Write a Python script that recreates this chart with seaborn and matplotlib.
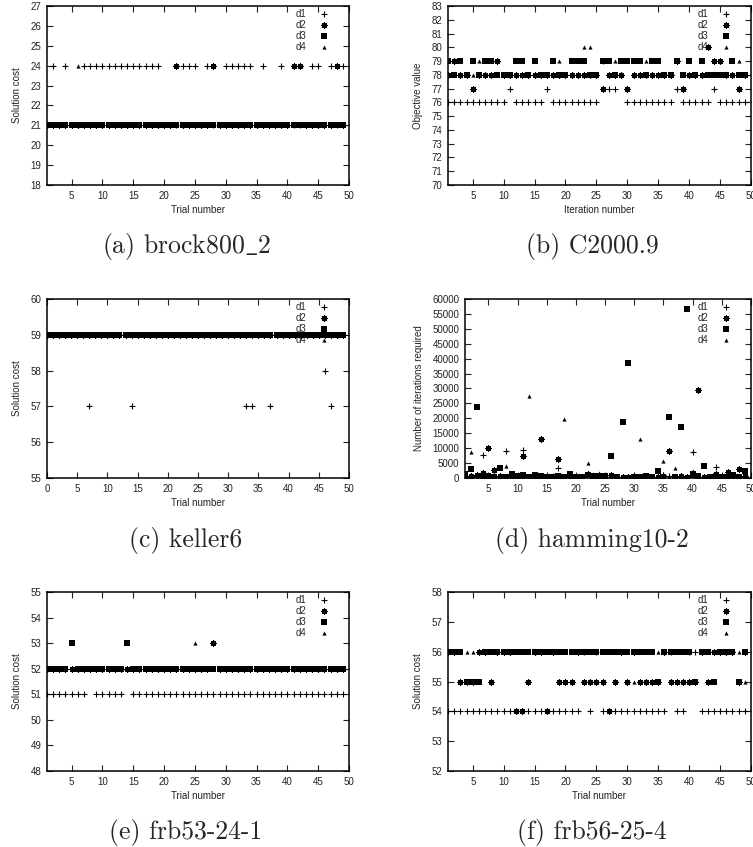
import matplotlib
matplotlib.use("Agg")
import matplotlib.pyplot as plt
import seaborn as sns

sns.set_style("ticks")
plt.rcParams['font.family'] = ['Liberation Sans', 'DejaVu Sans']
plt.rcParams['mathtext.fontset'] = 'cm'

# trial numbers
trials = list(range(1, 50))
trials_c = list(range(0, 50))

# (a) brock800_2 - solution cost
a_d1 = [21, 24, 21, 24, 21, 21, 24, 24, 24, 24,
        24, 24, 24, 24, 24, 24, 24, 24, 24, 21,
        21, 21, 24, 24, 24, 21, 24, 21, 21, 24,
        24, 24, 24, 24, 21, 24, 21, 21, 24, 21,
        21, 21, 21, 24, 24, 21, 24, 21, 24]
a_d2 = [21, 21, 21, 21, 21, 21, 21, 21, 21, 21,
        21, 21, 21, 21, 21, 21, 21, 21, 21, 21,
        21, 24, 21, 21, 21, 21, 21, 24, 21, 21,
        21, 21, 21, 21, 21, 21, 21, 21, 21, 21,
        24, 24, 21, 21, 21, 21, 21, 24, 21]
a_d3 = [21, 21, 21, 21, 21, 21, 21, 21, 21, 21,
        21, 21, 21, 21, 21, 21, 21, 21, 21, 21,
        21, 21, 21, 21, 21, 21, 21, 21, 21, 21,
        21, 21, 21, 21, 21, 21, 21, 21, 21, 21,
        21, 21, 21, 21, 21, 21, 21, 21, 21]
a_d4 = [21, 21, 21, 21, 21, 24, 21, 21, 21, 21,
        21, 21, 21, 21, 21, 21, 21, 21, 21, 21,
        21, 21, 21, 21, 21, 21, 21, 21, 21, 21,
        21, 21, 21, 21, 21, 21, 21, 21, 21, 21,
        21, 21, 21, 21, 21, 21, 21, 21, 21]

# (b) C2000.9 - objective value
b_d1 = [76, 76, 76, 76, 76, 76, 76, 76, 76, 76,
        77, 76, 76, 76, 76, 76, 77, 76, 76, 76,
        76, 76, 76, 76, 76, 79, 77, 77, 78, 76,
        76, 76, 76, 76, 76, 76, 76, 77, 76, 76,
        76, 76, 76, 77, 76, 76, 76, 76, 76]
b_d2 = [78, 79, 78, 78, 77, 78, 78, 78, 79, 78,
        78, 78, 78, 78, 78, 78, 78, 78, 78, 78,
        78, 78, 78, 78, 78, 77, 78, 78, 78, 77,
        78, 78, 78, 78, 78, 78, 78, 79, 77, 78,
        78, 78, 80, 79, 79, 78, 78, 77, 78]
b_d3 = [79, 78, 79, 78, 79, 78, 79, 79, 78, 78,
        78, 79, 79, 78, 79, 78, 78, 79, 78, 78,
        79, 79, 79, 78, 78, 79, 79, 78, 79, 79,
        79, 79, 78, 79, 79, 78, 78, 79, 78, 79,
        78, 79, 78, 78, 78, 78, 79, 78, 78]
b_d4 = [79, 78, 79, 78, 78, 79, 79, 79, 78, 78,
        78, 79, 79, 78, 78, 78, 78, 79, 79, 78,
        79, 79, 80, 80, 78, 79, 79, 79, 79, 79,
        79, 79, 79, 79, 79, 78, 78, 79, 78, 79,
        78, 78, 78, 78, 78, 78, 78, 79, 78]

# (c) keller6 - solution cost (trials 0..49)
c_d1 = [59, 59, 59, 59, 59, 59, 59, 57, 59, 59,
        59, 59, 59, 59, 57, 59, 59, 59, 59, 59,
        59, 59, 59, 59, 59, 59, 59, 59, 59, 59,
        59, 59, 59, 57, 57, 59, 59, 57, 59, 59,
        59, 59, 59, 59, 59, 59, 58, 57, 59, 59]
c_d2 = [59, 59, 59, 59, 59, 59, 59, 59, 59, 59,
        59, 59, 59, 59, 59, 59, 59, 59, 59, 59,
        59, 59, 59, 59, 59, 59, 59, 59, 59, 59,
        59, 59, 59, 59, 59, 59, 59, 59, 59, 59,
        59, 59, 59, 59, 59, 59, 59, 59, 59, 59]
c_d3 = [59, 59, 59, 59, 59, 59, 59, 59, 59, 59,
        59, 59, 59, 59, 59, 59, 59, 59, 59, 59,
        59, 59, 59, 59, 59, 59, 59, 59, 59, 59,
        59, 59, 59, 59, 59, 59, 59, 59, 59, 59,
        59, 59, 59, 59, 59, 59, 59, 59, 59, 59]
c_d4 = [59, 59, 59, 59, 59, 59, 59, 59, 59, 59,
        59, 59, 59, 59, 59, 59, 59, 59, 59, 59,
        59, 59, 59, 59, 59, 59, 59, 59, 59, 59,
        59, 59, 59, 59, 59, 59, 59, 59, 59, 59,
        59, 59, 59, 59, 59, 59, 59, 59, 59, 59]

# (d) hamming10-2 - iterations required
d_d1 = [300, 500, 400, 7600, 300, 600, 200, 8900, 400, 300,
        9300, 200, 500, 300, 400, 600, 3200, 300, 200, 400,
        300, 1200, 500, 300, 400, 200, 300, 500, 200, 300,
        400, 200, 300, 500, 1000, 600, 300, 400, 200, 8700,
        500, 300, 400, 3800, 600, 300, 500, 400, 300]
d_d2 = [400, 700, 1000, 1600, 10200, 2600, 800, 500, 300, 600,
        7500, 400, 300, 13000, 500, 300, 6400, 400, 600, 300,
        500, 1400, 800, 400, 300, 1000, 500, 300, 400, 600,
        300, 500, 400, 300, 700, 9000, 400, 600, 300, 900,
        29600, 400, 300, 1200, 500, 2000, 1000, 3100, 600]
d_d3 = [1300, 3000, 23700, 800, 600, 400, 3300, 300, 1300, 700,
        900, 200, 900, 600, 400, 400, 600, 500, 1500, 200,
        500, 900, 700, 800, 700, 7300, 400, 18900, 38500, 400,
        200, 600, 300, 2300, 400, 20300, 500, 17000, 56800, 1300,
        600, 3900, 500, 700, 400, 500, 1100, 300, 2300]
d_d4 = [500, 8800, 300, 400, 200, 500, 300, 3900, 200, 400,
        300, 27400, 200, 400, 300, 500, 200, 19800, 300, 400,
        200, 5000, 1500, 1800, 300, 200, 400, 300, 200, 300,
        13000, 400, 200, 300, 5700, 400, 3200, 300, 200, 2500,
        400, 300, 200, 500, 300, 1200, 400, 300, 2600]

# (e) frb53-24-1 - solution cost
e_d1 = [51, 51, 51, 51, 51, 51, 51, 52, 51, 51,
        51, 51, 51, 52, 51, 51, 51, 51, 51, 51,
        51, 51, 51, 51, 51, 51, 51, 51, 51, 51,
        51, 51, 51, 51, 51, 51, 51, 51, 51, 51,
        51, 51, 51, 51, 51, 51, 51, 51, 51]
e_d2 = [52, 52, 52, 52, 52, 52, 52, 52, 52, 52,
        52, 52, 52, 52, 52, 52, 52, 52, 52, 52,
        52, 52, 52, 52, 52, 52, 52, 53, 52, 52,
        52, 52, 52, 52, 52, 52, 52, 52, 52, 52,
        52, 52, 52, 52, 52, 52, 52, 52, 52]
e_d3 = [52, 52, 52, 52, 53, 52, 52, 52, 52, 52,
        52, 52, 52, 53, 52, 52, 52, 52, 52, 52,
        52, 52, 52, 52, 52, 52, 52, 52, 52, 52,
        52, 52, 52, 52, 52, 52, 52, 52, 52, 52,
        52, 52, 52, 52, 52, 52, 52, 52, 52]
e_d4 = [52, 52, 52, 52, 52, 52, 52, 52, 52, 52,
        52, 52, 52, 52, 52, 52, 52, 52, 52, 52,
        52, 52, 52, 52, 53, 52, 52, 52, 52, 52,
        52, 52, 52, 52, 52, 52, 52, 52, 52, 52,
        52, 52, 52, 52, 52, 52, 52, 52, 52]

# (f) frb56-25-4 - solution cost
f_d1 = [54, 54, 54, 54, 54, 54, 54, 54, 54, 54,
        54, 54, 54, 54, 54, 54, 54, 54, 54, 54,
        54, 54, 56, 54, 56, 54, 54, 54, 54, 54,
        54, 54, 54, 54, 54, 54, 56, 54, 54, 56,
        56, 54, 54, 54, 54, 54, 54, 54, 54]
f_d2 = [56, 56, 55, 55, 55, 56, 56, 55, 56, 56,
        56, 54, 54, 55, 56, 56, 54, 56, 55, 55,
        55, 56, 55, 55, 55, 55, 54, 55, 56, 55,
        56, 55, 55, 55, 55, 56, 55, 55, 55, 55,
        55, 56, 55, 56, 56, 56, 56, 55, 56]
f_d3 = [56, 56, 56, 55, 55, 55, 56, 56, 56, 56,
        56, 56, 56, 56, 56, 56, 56, 56, 56, 56,
        56, 56, 56, 56, 56, 56, 56, 56, 56, 56,
        56, 56, 56, 56, 55, 56, 56, 56, 56, 56,
        55, 56, 56, 55, 56, 56, 56, 55, 56]
f_d4 = [56, 56, 56, 56, 56, 55, 56, 56, 56, 56,
        56, 56, 56, 56, 56, 56, 56, 56, 56, 56,
        56, 56, 56, 56, 56, 56, 56, 56, 56, 56,
        55, 56, 56, 56, 56, 56, 56, 56, 56, 56,
        55, 56, 56, 55, 56, 56, 56, 56, 55]

captions = ["(a) brock800$\\_$2", "(b) C2000.9", "(c) keller6",
            "(d) hamming10-2", "(e) frb53-24-1", "(f) frb56-25-4"]

# gnuplot-like point types
MARKERS = {
    'd1': dict(marker='+', s=18, linewidth=0.8),
    'd2': dict(marker=(8, 2, 0), s=14, linewidth=0.9),
    'd3': dict(marker='s', s=13, linewidth=0),
    'd4': dict(marker='^', s=9, linewidth=0),
}

W, H = 753, 847


def rect(left, top, right, bottom):
    return [left / W, 1 - bottom / H, (right - left) / W, (bottom - top) / H]


def draw_panel(ax, x, series, xlim, xticks, ylim, yticks, xlabel, ylabel, width_px):
    for name in ['d1', 'd2', 'd3', 'd4']:
        sns.scatterplot(x=x, y=series[name], ax=ax, color='black', edgecolor='black',
                        label=name, zorder=2, **MARKERS[name])
    ax.set_xlim(*xlim)
    ax.set_ylim(*ylim)
    ax.set_xticks(xticks)
    ax.set_yticks(yticks)
    ax.set_xlabel(xlabel, fontsize=7, labelpad=3, color='#222222')
    ax.set_ylabel(ylabel, fontsize=7, labelpad=6, color='#222222')
    ax.tick_params(direction='in', top=True, right=True, length=4, width=0.8,
                   labelsize=7, pad=4, colors='#222222')
    for sp in ax.spines.values():
        sp.set_linewidth(1.1)
        sp.set_color('black')
    leg = ax.legend(loc='upper right', bbox_to_anchor=(1 - 12 / width_px, 1.0),
                    frameon=False, markerfirst=False, fontsize=7, handletextpad=0.8,
                    handlelength=2.0, labelspacing=0.12, borderpad=0.3,
                    borderaxespad=0, scatterpoints=1, scatteryoffsets=[0.5])
    leg.set_zorder(1.5)


fig = plt.figure(figsize=(7.53, 8.47), dpi=100)

panels = [
    (rect(47, 6, 349, 185), trials, dict(d1=a_d1, d2=a_d2, d3=a_d3, d4=a_d4),
     (1, 50), range(5, 51, 5), (18, 27), range(18, 28), 'Trial number', 'Solution cost'),
    (rect(448, 6, 751, 185), trials, dict(d1=b_d1, d2=b_d2, d3=b_d3, d4=b_d4),
     (1, 50), range(5, 51, 5), (70, 83), range(70, 84), 'Iteration number', 'Objective value'),
    (rect(47, 299, 349, 478), trials_c, dict(d1=c_d1, d2=c_d2, d3=c_d3, d4=c_d4),
     (0, 50), range(0, 51, 5), (55, 60), range(55, 61), 'Trial number', 'Solution cost'),
    (rect(465, 299, 751, 478), trials, dict(d1=d_d1, d2=d_d2, d3=d_d3, d4=d_d4),
     (1, 50), range(5, 51, 5), (0, 60000), range(0, 60001, 5000), 'Trial number',
     'Number of iterations required'),
    (rect(47, 592, 349, 771), trials, dict(d1=e_d1, d2=e_d2, d3=e_d3, d4=e_d4),
     (1, 50), range(5, 51, 5), (48, 55), range(48, 56), 'Trial number', 'Solution cost'),
    (rect(448, 592, 751, 771), trials, dict(d1=f_d1, d2=f_d2, d3=f_d3, d4=f_d4),
     (1, 50), range(5, 51, 5), (52, 58), range(52, 59), 'Trial number', 'Solution cost'),
]

for p in panels:
    r = p[0]
    ax = fig.add_axes(r)
    draw_panel(ax, p[1], p[2], p[3], p[4], p[5], p[6], p[7], p[8], r[2] * W)

# subfigure captions
cap_x = [186, 592]
cap_y = [247, 540, 832]
for i, cap in enumerate(captions):
    fig.text(cap_x[i % 2] / W, 1 - cap_y[i // 2] / H, cap, family='cmr10',
             fontsize=18.5, ha='center', va='center')

fig.savefig('out.png', dpi=100)
